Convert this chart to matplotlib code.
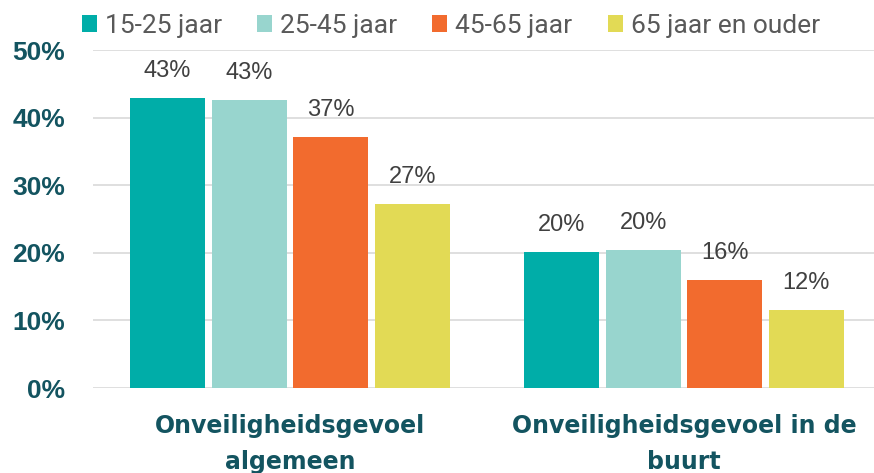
import matplotlib
matplotlib.use('Agg')
import matplotlib.pyplot as plt
import numpy as np
from matplotlib.ticker import FuncFormatter

categories = ['Onveiligheidsgevoel\nalgemeen', 'Onveiligheidsgevoel in de\nbuurt']
age_groups = ['15-25 jaar', '25-45 jaar', '45-65 jaar', '65 jaar en ouder']
values = [
    [0.429, 0.201],
    [0.426, 0.204],
    [0.371, 0.160],
    [0.272, 0.115],
]
colors = ['#00ADA8', '#98D5CE', '#F26B2E', '#E2DA55']

dark = '#135460'

fig = plt.figure(figsize=(8.74, 4.73), dpi=100)
ax = fig.add_axes([93 / 874, 85 / 473, 788 / 874, 338 / 473])

x = np.arange(len(categories))
width = 0.19
step = 0.207
for i, (grp, vals, c) in enumerate(zip(age_groups, values, colors)):
    pos = x + (i - 1.5) * step
    bars = ax.bar(pos, vals, width, color=c, label=grp, zorder=3)
    for b, v in zip(bars, vals):
        ax.text(b.get_x() + b.get_width() / 2, v + 0.024, '{:.0%}'.format(v),
                ha='center', va='bottom', fontsize=17, color='#404040',
                family=['Liberation Sans', 'DejaVu Sans'])

ax.set_xlim(-0.5, 1.5)
ax.set_ylim(0, 0.5)
ax.set_yticks(np.arange(0, 0.51, 0.1))
ax.yaxis.set_major_formatter(FuncFormatter(lambda v, p: '{:.0%}'.format(v)))
ax.grid(axis='y', color='#DCDCDC', linewidth=1.3, zorder=0)
for s in ax.spines.values():
    s.set_visible(False)
ax.tick_params(length=0)
ax.tick_params(axis='y', pad=20)
ax.tick_params(axis='x', pad=19)
ax.set_xticks(x)
ax.set_xticklabels(categories, fontsize=17, fontweight='bold', color=dark,
                   family='DejaVu Sans', linespacing=1.6)
for lbl in ax.get_yticklabels():
    lbl.set_fontsize(19)
    lbl.set_fontweight('bold')
    lbl.set_color(dark)
    lbl.set_family(['Liberation Sans', 'DejaVu Sans'])

fig.legend(loc='upper left', bbox_to_anchor=(82 / 874, 1 - 14 / 473), ncol=4, frameon=False,
           prop={'family': ['Roboto', 'DejaVu Sans'], 'size': 19}, labelcolor='#595959',
           borderpad=0, borderaxespad=0,
           handlelength=0.57, handleheight=0.62, handletextpad=0.3, columnspacing=1.33)

fig.savefig('out.png', dpi=100)
